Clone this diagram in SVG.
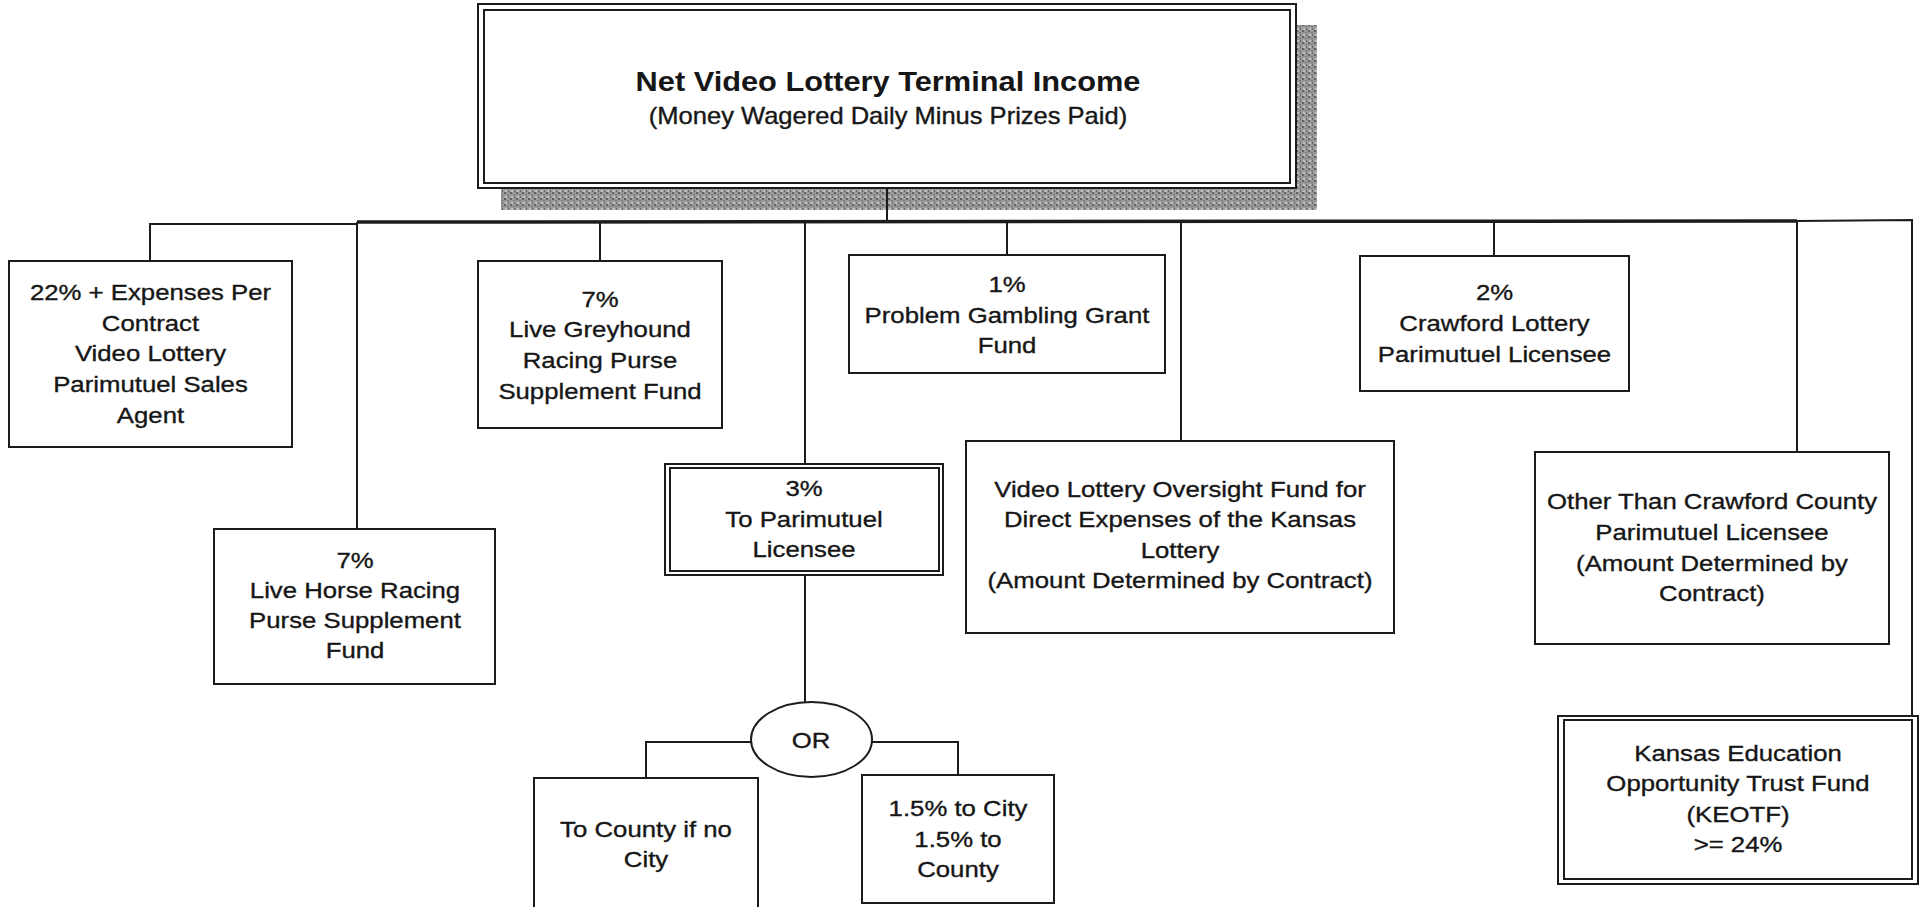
<svg xmlns="http://www.w3.org/2000/svg" width="1923" height="907" viewBox="0 0 1923 907">
<style>
.box{fill:#fff;stroke:#1c1c1c;stroke-width:2}
.conn{stroke:#1c1c1c;stroke-width:2;fill:none}
.thick{stroke:#1c1c1c;stroke-width:3.5;fill:none}
.t{font-family:'Liberation Sans',Arial,sans-serif;font-size:23px;fill:#161616;stroke:#161616;stroke-width:0.35;text-anchor:middle}
.title{font-family:'Liberation Sans',Arial,sans-serif;font-size:27px;font-weight:bold;fill:#161616;text-anchor:middle}
</style>
<defs>
<pattern id="grain" width="6" height="6" patternUnits="userSpaceOnUse">
<rect width="6" height="6" fill="#9a9a9a"/>
<rect x="0" y="0" width="2" height="2" fill="#626262"/>
<rect x="3" y="2" width="2" height="1" fill="#767676"/>
<rect x="1" y="4" width="2" height="2" fill="#c0c0c0"/>
<rect x="4" y="4" width="1" height="2" fill="#6a6a6a"/>
</pattern>
</defs>
<rect width="1923" height="907" fill="#fff"/>

<g id="connectors">
<line class="conn" x1="887" y1="188" x2="887" y2="222"/>
<polyline class="conn" points="150,261 150,224 357,224"/>
<line class="thick" x1="357" y1="222" x2="1797" y2="221"/>
<polyline class="conn" points="1797,221 1912,220 1912,716"/>
<line class="conn" x1="357" y1="222" x2="357" y2="529"/>
<line class="conn" x1="600" y1="222" x2="600" y2="261"/>
<line class="conn" x1="805" y1="222" x2="805" y2="464"/>
<line class="conn" x1="1007" y1="222" x2="1007" y2="255"/>
<line class="conn" x1="1181" y1="221" x2="1181" y2="441"/>
<line class="conn" x1="1494" y1="221" x2="1494" y2="256"/>
<line class="conn" x1="1797" y1="221" x2="1797" y2="452"/>
<line class="conn" x1="805" y1="575" x2="805" y2="702"/>
<polyline class="conn" points="751,742 646,742 646,778"/>
<polyline class="conn" points="872,742 958,742 958,775"/>
</g>

<g id="node-main">
<rect x="501" y="188" width="816" height="22" fill="url(#grain)"/>
<rect x="1296" y="25" width="21" height="185" fill="url(#grain)"/>
<line class="conn" x1="887" y1="188" x2="887" y2="210"/>
<rect class="box" x="478" y="4" width="818" height="184"/>
<rect class="box" x="484" y="10" width="806" height="173"/>
<text class="title" transform="translate(888 0) scale(1.14 1)"><tspan x="0" y="91">Net Video Lottery Terminal Income</tspan></text>
<text class="t" transform="translate(888 0) scale(1.11 1)"><tspan x="0" y="124">(Money Wagered Daily Minus Prizes Paid)</tspan></text>
</g>

<g id="node-sales-agent">
<rect class="box" x="9" y="261" width="283" height="186"/>
<text class="t" transform="translate(150.5 0) scale(1.12 1)"><tspan x="0" y="300">22% + Expenses Per</tspan><tspan x="0" y="331">Contract</tspan><tspan x="0" y="361">Video Lottery</tspan><tspan x="0" y="392">Parimutuel Sales</tspan><tspan x="0" y="423">Agent</tspan></text>
</g>

<g id="node-horse">
<rect class="box" x="214" y="529" width="281" height="155"/>
<text class="t" transform="translate(355 0) scale(1.12 1)"><tspan x="0" y="568">7%</tspan><tspan x="0" y="598">Live Horse Racing</tspan><tspan x="0" y="628">Purse Supplement</tspan><tspan x="0" y="658">Fund</tspan></text>
</g>

<g id="node-greyhound">
<rect class="box" x="478" y="261" width="244" height="167"/>
<text class="t" transform="translate(600 0) scale(1.12 1)"><tspan x="0" y="307">7%</tspan><tspan x="0" y="337">Live Greyhound</tspan><tspan x="0" y="368">Racing Purse</tspan><tspan x="0" y="399">Supplement Fund</tspan></text>
</g>

<g id="node-parimutuel">
<rect class="box" x="665" y="464" width="278" height="111"/>
<rect class="box" x="670" y="468" width="269" height="103"/>
<text class="t" transform="translate(804 0) scale(1.12 1)"><tspan x="0" y="496">3%</tspan><tspan x="0" y="527">To Parimutuel</tspan><tspan x="0" y="557">Licensee</tspan></text>
</g>

<g id="node-or">
<ellipse class="box" cx="811.5" cy="739.5" rx="60.5" ry="37.5"/>
<text class="t" transform="translate(811 0) scale(1.12 1)"><tspan x="0" y="748">OR</tspan></text>
</g>

<g id="node-county">
<rect class="box" x="534" y="778" width="224" height="135"/>
<text class="t" transform="translate(646 0) scale(1.12 1)"><tspan x="0" y="837">To County if no</tspan><tspan x="0" y="867">City</tspan></text>
</g>

<g id="node-city-county">
<rect class="box" x="862" y="775" width="192" height="128"/>
<text class="t" transform="translate(958 0) scale(1.12 1)"><tspan x="0" y="816">1.5% to City</tspan><tspan x="0" y="847">1.5% to</tspan><tspan x="0" y="877">County</tspan></text>
</g>

<g id="node-gambling">
<rect class="box" x="849" y="255" width="316" height="118"/>
<text class="t" transform="translate(1007 0) scale(1.12 1)"><tspan x="0" y="292">1%</tspan><tspan x="0" y="323">Problem Gambling Grant</tspan><tspan x="0" y="353">Fund</tspan></text>
</g>

<g id="node-oversight">
<rect class="box" x="966" y="441" width="428" height="192"/>
<text class="t" transform="translate(1180 0) scale(1.12 1)"><tspan x="0" y="497">Video Lottery Oversight Fund for</tspan><tspan x="0" y="527">Direct Expenses of the Kansas</tspan><tspan x="0" y="558">Lottery</tspan><tspan x="0" y="588">(Amount Determined by Contract)</tspan></text>
</g>

<g id="node-crawford">
<rect class="box" x="1360" y="256" width="269" height="135"/>
<text class="t" transform="translate(1494.5 0) scale(1.12 1)"><tspan x="0" y="300">2%</tspan><tspan x="0" y="331">Crawford Lottery</tspan><tspan x="0" y="362">Parimutuel Licensee</tspan></text>
</g>

<g id="node-other-crawford">
<rect class="box" x="1535" y="452" width="354" height="192"/>
<text class="t" transform="translate(1712 0) scale(1.12 1)"><tspan x="0" y="509">Other Than Crawford County</tspan><tspan x="0" y="540">Parimutuel Licensee</tspan><tspan x="0" y="571">(Amount Determined by</tspan><tspan x="0" y="601">Contract)</tspan></text>
</g>

<g id="node-keotf">
<rect class="box" x="1558" y="716" width="360" height="168"/>
<rect class="box" x="1564" y="720" width="348" height="159"/>
<text class="t" transform="translate(1738 0) scale(1.12 1)"><tspan x="0" y="761">Kansas Education</tspan><tspan x="0" y="791">Opportunity Trust Fund</tspan><tspan x="0" y="822">(KEOTF)</tspan><tspan x="0" y="852">&gt;= 24%</tspan></text>
</g>
</svg>
